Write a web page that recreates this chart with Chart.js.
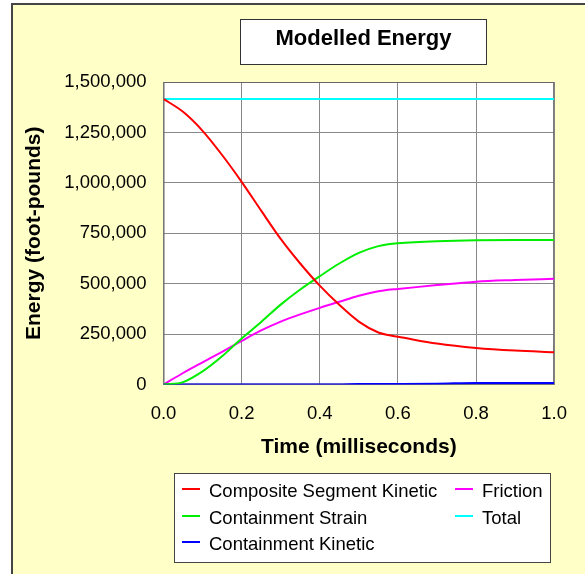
<!DOCTYPE html>
<html>
<head>
<meta charset="utf-8">
<script src="https://cdn.jsdelivr.net/npm/chart.js@4"></script>
<style>
  html, body { margin: 0; padding: 0; background: #fff; }
  #wrap { width: 585px; height: 574px; }
</style>
</head>
<body>
<div id="wrap"><canvas id="energyChart" width="585" height="574"></canvas></div>
<script>
// Time in milliseconds
const times = [0, 0.05, 0.1, 0.15, 0.2, 0.25, 0.3, 0.35, 0.4, 0.45, 0.5, 0.55, 0.575, 0.6, 0.7, 0.8, 0.9, 1.0];

// Energy in foot-pounds
const compositeKinetic = [1416000, 1352000, 1258000, 1138000, 1005000, 862000, 722000, 600000, 490000, 395000, 312000, 258000, 245000, 237000, 203000, 181000, 168000, 160000];
const containmentStrain = [0, 12000, 65000, 140000, 228000, 310000, 396000, 471000, 537000, 600000, 653000, 686000, 695000, 700000, 710000, 715000, 716000, 716000];
const containmentKinetic = [0, 0, 0, 0, 0, 0, 0, 0, 0, 0, 3000, 3000, 3000, 3000, 4000, 8000, 8000, 8000];
const friction = [0, 57000, 110000, 162000, 216000, 268000, 312000, 348000, 380000, 410000, 440000, 462000, 470000, 474000, 493000, 510000, 518000, 524000];
const total = [1416000, 1416000, 1416000, 1416000, 1416000, 1416000, 1416000, 1416000, 1416000, 1416000, 1416000, 1416000, 1416000, 1416000, 1416000, 1416000, 1416000, 1416000];

const seriesLabels = ["Composite Segment Kinetic", "Containment Strain", "Containment Kinetic", "Friction", "Total"];
const seriesColors = ["#ff0000", "#00ee00", "#0000ff", "#ff00ff", "#00ffff"];
const seriesValues = [compositeKinetic, containmentStrain, containmentKinetic, friction, total];

const yTicks = [0, 250000, 500000, 750000, 1000000, 1250000, 1500000];

const FONT = "'Liberation Sans', Arial, sans-serif";

function points(values) {
    return times.map((t, i) => ({ x: t, y: values[i] }));
}

// yellow panel, white plot area
const backdrop = {
    id: "backdrop",
    beforeDraw(chart) {
        const ctx = chart.ctx;
        const a = chart.chartArea;
        ctx.save();
        ctx.fillStyle = "#ffffff";
        ctx.fillRect(0, 0, chart.width, chart.height);
        ctx.fillStyle = "#ffffc8";
        ctx.fillRect(12, 4, chart.width - 12, chart.height - 4);
        ctx.strokeStyle = "#444444";
        ctx.lineWidth = 2;
        ctx.beginPath();
        ctx.moveTo(12, chart.height);
        ctx.lineTo(12, 4);
        ctx.lineTo(chart.width, 4);
        ctx.stroke();
        ctx.fillStyle = "#ffffff";
        ctx.fillRect(a.left, a.top, a.right - a.left, a.bottom - a.top);
        ctx.restore();
    },
    beforeDatasetsDraw(chart) {
        const ctx = chart.ctx;
        const a = chart.chartArea;
        ctx.save();
        ctx.strokeStyle = "#666666";
        ctx.lineWidth = 1;
        ctx.strokeRect(a.left + 0.5, a.top + 0.5, a.right - a.left - 1, a.bottom - a.top - 1);
        ctx.restore();
    }
};

// boxed title and two-column legend
const boxes = {
    id: "boxes",
    afterDraw(chart) {
        const ctx = chart.ctx;
        ctx.save();
        ctx.fillStyle = "#ffffff";
        ctx.fillRect(240, 19, 247, 46);
        ctx.strokeStyle = "#333333";
        ctx.lineWidth = 1;
        ctx.strokeRect(240.5, 19.5, 246, 45);
        ctx.fillStyle = "#000000";
        ctx.font = "bold 22px " + FONT;
        ctx.textAlign = "center";
        ctx.textBaseline = "middle";
        ctx.fillText("Modelled Energy", 363.5, 39);

        ctx.fillStyle = "#ffffff";
        ctx.fillRect(174, 473, 377, 90);
        ctx.strokeStyle = "#444444";
        ctx.strokeRect(174.5, 473.5, 376, 89);

        const slots = [[182, 492], [182, 519], [182, 545], [455, 492], [455, 519]];
        ctx.font = "18.5px " + FONT;
        ctx.textAlign = "left";
        chart.data.datasets.forEach((ds, i) => {
            const [x, y] = slots[i];
            ctx.strokeStyle = ds.borderColor;
            ctx.lineWidth = 2;
            ctx.beginPath();
            ctx.moveTo(x, y - 3);
            ctx.lineTo(x + 18, y - 3);
            ctx.stroke();
            ctx.fillStyle = "#000000";
            ctx.fillText(ds.label, x + 27, y);
        });
        ctx.restore();
    }
};

new Chart(document.getElementById("energyChart"), {
    type: "line",
    data: {
        datasets: seriesLabels.map((label, i) => ({
            label: label,
            data: points(seriesValues[i]),
            borderColor: seriesColors[i],
            backgroundColor: seriesColors[i],
            borderWidth: 2,
            pointRadius: 0,
            cubicInterpolationMode: "monotone",
            fill: false
        }))
    },
    options: {
        responsive: false,
        animation: false,
        events: [],
        layout: { padding: { left: 12, top: 82, right: 22, bottom: 0 } },
        plugins: {
            legend: { display: false },
            title: { display: false },
            tooltip: { enabled: false }
        },
        scales: {
            x: {
                type: "linear",
                min: 0,
                max: 1,
                afterFit(scale) { scale.height = 189.5; },
                ticks: {
                    stepSize: 0.2,
                    padding: 18,
                    color: "#000",
                    font: { family: FONT, size: 18.5 },
                    callback: (v) => v.toFixed(1)
                },
                grid: { color: "#888888", drawTicks: false },
                border: { display: false },
                title: {
                    display: true,
                    text: "Time (milliseconds)",
                    color: "#000",
                    font: { family: FONT, size: 21, weight: "bold" },
                    padding: { top: 0, bottom: 114 }
                }
            },
            y: {
                min: 0,
                max: 1500000,
                afterFit(scale) { scale.width = 151.5; },
                afterBuildTicks(scale) { scale.ticks = yTicks.map(v => ({ value: v })); },
                ticks: {
                    padding: 17,
                    color: "#000",
                    font: { family: FONT, size: 18.5 },
                    callback: (v) => v.toLocaleString("en-US")
                },
                grid: { color: "#888888", drawTicks: false },
                border: { display: false },
                title: {
                    display: true,
                    text: "Energy (foot-pounds)",
                    color: "#000",
                    font: { family: FONT, size: 21, weight: "bold" },
                    padding: { top: 10, bottom: 0 }
                }
            }
        }
    },
    plugins: [backdrop, boxes]
});
</script>
</body>
</html>
